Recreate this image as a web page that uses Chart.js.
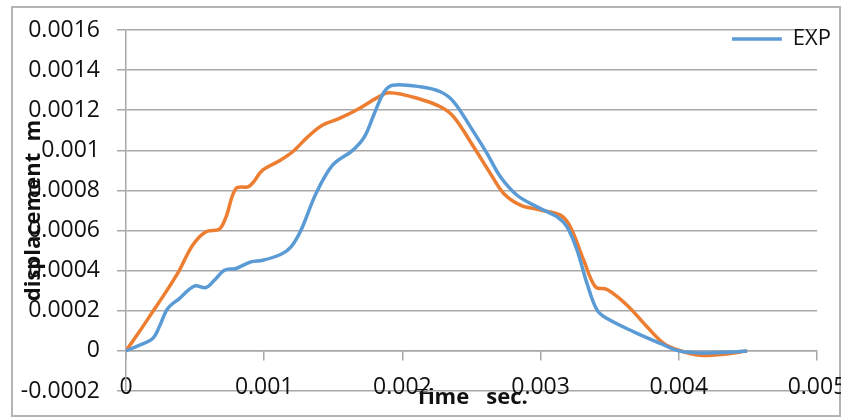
<!DOCTYPE html>
<html>
<head>
<meta charset="utf-8">
<script src="https://cdn.jsdelivr.net/npm/chart.js@4.4.1/dist/chart.umd.min.js"></script>
<style>
  html, body { margin: 0; padding: 0; background: #fff; }
  #wrap { position: relative; width: 841px; height: 418px; overflow: hidden; }
  #frame { position: absolute; left: 11px; top: 6px; width: 830px; height: 411px; border: 2px solid #b4b4b4; box-sizing: border-box; }
  #chart { position: absolute; left: 0; top: 0; }
</style>
</head>
<body>
<div id="wrap">
  <div id="frame"></div>
  <canvas id="chart" width="841" height="418"></canvas>
</div>
<script>
// Measured displacement (EXP)
const expTime = [0, 0.000096, 0.000193, 0.000241, 0.000302, 0.000386, 0.000494, 0.000579, 0.000639, 0.000712,
  0.000796, 0.000904, 0.000989, 0.001122, 0.001194, 0.001266, 0.001375, 0.001495, 0.00164, 0.001725,
  0.001797, 0.001869, 0.00193, 0.00213, 0.002275, 0.002371, 0.002492, 0.002613, 0.002709, 0.00283,
  0.002974, 0.003119, 0.003191, 0.003264, 0.003336, 0.003409, 0.003481, 0.003674, 0.003867, 0.004,
  0.004156, 0.004397, 0.004494];
const expDisp = [0, 0.000028, 0.000062, 0.00012, 0.000211, 0.000261, 0.000323, 0.000316, 0.000352, 0.000402,
  0.000411, 0.000444, 0.000452, 0.000482, 0.000519, 0.000602, 0.000785, 0.000926, 0.001, 0.001067,
  0.001184, 0.001292, 0.001325, 0.001317, 0.001292, 0.001242, 0.001117, 0.000984, 0.000868, 0.000776,
  0.000718, 0.000668, 0.000618, 0.000502, 0.000336, 0.000203, 0.000161, 0.000095, 0.000037, 0,
  -0.00001, -0.000006, 0];

// Simulated displacement
const simTime = [0, 0.000096, 0.000193, 0.000289, 0.000386, 0.000482, 0.000579, 0.000675, 0.000724, 0.000796,
  0.000892, 0.000989, 0.00111, 0.001206, 0.001315, 0.001423, 0.001544, 0.001688, 0.001809, 0.001905,
  0.00213, 0.002275, 0.002371, 0.002516, 0.002637, 0.002733, 0.002854, 0.002999, 0.003143, 0.003216,
  0.003312, 0.003397, 0.003481, 0.003626, 0.00377, 0.003891, 0.004, 0.004156, 0.004325, 0.004494];
const simDisp = [0, 0.000095, 0.000195, 0.000294, 0.000402, 0.000527, 0.000594, 0.000607, 0.000668, 0.00081,
  0.000821, 0.000901, 0.000948, 0.000993, 0.001067, 0.001126, 0.001159, 0.001209, 0.001259, 0.001287,
  0.001255, 0.001217, 0.001167, 0.001017, 0.000884, 0.000785, 0.000727, 0.000702, 0.000677, 0.000618,
  0.000452, 0.000319, 0.000306, 0.000228, 0.00012, 0.000037, 0.000003, -0.000022, -0.000017, 0];

const xTicks = { min: 0, max: 0.005, step: 0.001 };
const yTicks = { min: -0.0002, max: 0.0016, step: 0.0002 };

const FONT = '"Open Sans", sans-serif';
const GRID = '#a8a8a8';
const TEXT = '#111';

function toPoints(xs, ys) {
  return xs.map((x, i) => ({ x: x, y: ys[i] }));
}

function fmt(v) {
  return String(+v.toFixed(6));
}

// put the legend in the top right corner, over the plot
const legendSpot = {
  id: 'legendSpot',
  afterLayout(chart) {
    const lg = chart.legend;
    if (!lg) return;
    lg.right = 841;
    lg.left = lg.right - lg.width;
    lg.top = 28;
    lg.bottom = lg.top + lg.height;
  }
};

new Chart(document.getElementById('chart'), {
  type: 'line',
  data: {
    datasets: [
      {
        label: 'EXP',
        data: toPoints(expTime, expDisp),
        borderColor: '#5B9BD5',
        backgroundColor: '#5B9BD5',
        borderWidth: 3.5,
        pointRadius: 0,
        pointStyle: 'line',
        tension: 0.35
      },
      {
        label: 'FEM',
        data: toPoints(simTime, simDisp),
        borderColor: '#ED7D31',
        backgroundColor: '#ED7D31',
        borderWidth: 3.5,
        pointRadius: 0,
        pointStyle: 'line',
        tension: 0.35
      }
    ]
  },
  options: {
    responsive: false,
    animation: false,
    devicePixelRatio: 1,
    layout: { padding: { top: 30, right: 24, bottom: 0, left: 0 } },
    plugins: {
      tooltip: { enabled: false },
      legend: {
        position: 'chartArea',
        align: 'start',
        labels: {
          usePointStyle: true,
          pointStyle: 'line',
          pointStyleWidth: 50,
          padding: 0,
          color: TEXT,
          font: { family: FONT, size: 22 },
          filter: item => item.datasetIndex === 0
        }
      }
    },
    scales: {
      // axis line with tick marks, sitting on y = 0
      x: {
        type: 'linear',
        position: { y: 0 },
        min: xTicks.min,
        max: xTicks.max,
        ticks: { stepSize: xTicks.step, display: false },
        grid: { drawOnChartArea: false, drawTicks: true, tickLength: 9, color: GRID, lineWidth: 1.5 },
        border: { display: true, color: GRID, width: 1.5 },
        afterFit(s) { s.paddingLeft = 0; s.paddingRight = 0; }
      },
      // tick labels and title along the bottom (mirrored so they may rise over the last gridline)
      xLabels: {
        type: 'linear',
        axis: 'x',
        position: 'bottom',
        min: xTicks.min,
        max: xTicks.max,
        ticks: { stepSize: xTicks.step, mirror: true, padding: -10, maxRotation: 0, color: TEXT, font: { family: FONT, size: 23 }, callback: fmt },
        grid: { display: false, drawTicks: false },
        border: { display: false },
        title: { display: true, text: 'Time   sec.', color: TEXT, font: { family: FONT, size: 22, weight: 'bold' }, padding: { top: 0, bottom: 7 } },
        afterFit(s) { s.height = 27; s.paddingLeft = 0; s.paddingRight = 0; }
      },
      y: {
        type: 'linear',
        min: yTicks.min,
        max: yTicks.max,
        ticks: { stepSize: yTicks.step, padding: 17, color: TEXT, font: { family: FONT, size: 23 }, callback: fmt },
        grid: { color: GRID, lineWidth: 1.5, drawTicks: true, tickLength: 9 },
        border: { display: true, color: GRID, width: 1.5 },
        title: { display: true, text: 'displacement  m', color: TEXT, font: { family: FONT, size: 22, weight: 'bold' }, padding: { top: 21, bottom: 0 } },
        afterFit(s) { s.width = 126; s.paddingTop = 0; s.paddingBottom = 0; }
      }
    }
  },
  plugins: [legendSpot]
});
</script>
</body>
</html>
